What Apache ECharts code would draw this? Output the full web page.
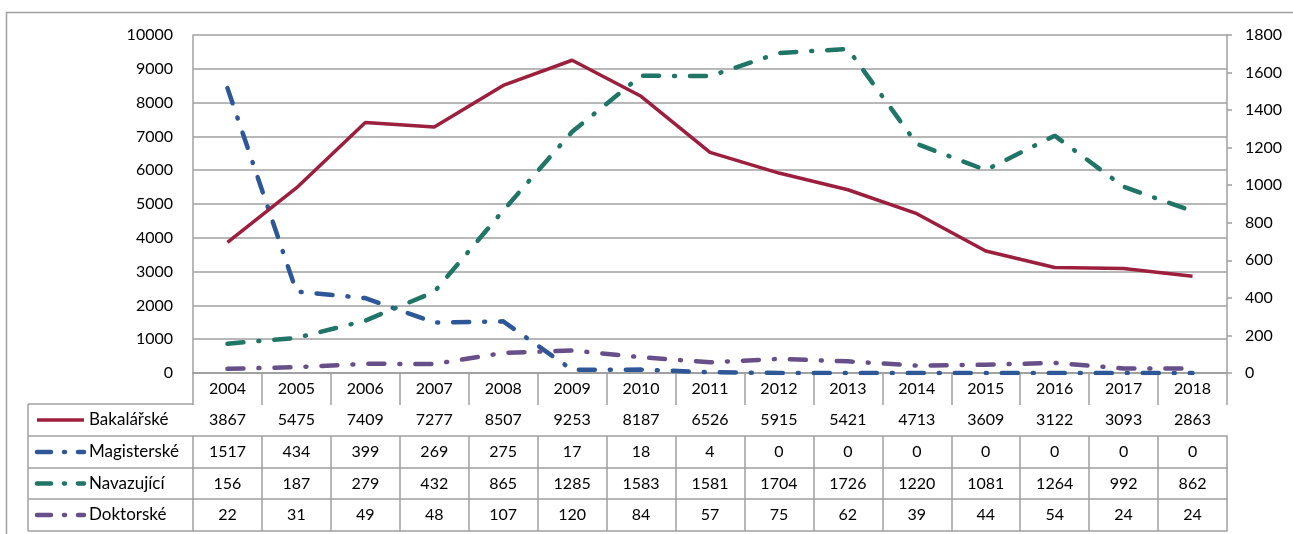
<!DOCTYPE html>
<html><head><meta charset="utf-8">
<script src="https://cdn.jsdelivr.net/npm/echarts@6/dist/echarts.min.js"></script>
<style>html,body{margin:0;padding:0;background:#fff}#c{width:1293px;height:534px}</style>
</head><body><div id="c"></div>
<script>
const years = ['2004','2005','2006','2007','2008','2009','2010','2011','2012','2013','2014','2015','2016','2017','2018'];
const seriesNames = ['Bakalářské','Magisterské','Navazující','Doktorské'];
const bakalarske = [3867,5475,7409,7277,8507,9253,8187,6526,5915,5421,4713,3609,3122,3093,2863];
const magisterske = [1517,434,399,269,275,17,18,4,0,0,0,0,0,0,0];
const navazujici = [156,187,279,432,865,1285,1583,1581,1704,1726,1220,1081,1264,992,862];
const doktorske = [22,31,49,48,107,120,84,57,75,62,39,44,54,24,24];
const leftTicks = {min:0, max:10000, interval:1000};
const rightTicks = {min:0, max:1800, interval:200};

const colors = ['#9c1f3d','#2e5797','#1f7566','#675089'];
const gray = '#a0a0a0';
const font = 'Lato';
const dash = [16,15,1,15];
const allData = [bakalarske, magisterske, navazujici, doktorske];

const gridLeft = 193, gridRight = 66, gridTop = 35, gridBottom = 161;
const rowOffsets = [31, 63, 94.5, 126];
const tableBottomOffset = 158;
const plain = v => String(v);

const xAxes = [{
  type:'category', data: years, position:'bottom', gridIndex:0,
  axisLine:{show:true, lineStyle:{color:gray, width:1.5}},
  axisTick:{show:true, interval:0, length:31, lineStyle:{color:gray, width:1.5}},
  axisLabel:{interval:0, fontSize:16, color:'#000', fontFamily:font, margin:8},
  splitLine:{show:false}
}];
allData.forEach((arr, i) => {
  xAxes.push({
    type:'category', data: arr.map(String), position:'bottom', offset: rowOffsets[i], gridIndex:0,
    axisLine:{show:true, lineStyle:{color:gray, width:1.5}},
    axisTick:{show:true, interval:0, length:32, lineStyle:{color:gray, width:1.5}},
    axisLabel:{interval:0, fontSize:16, color:'#000', fontFamily:font, margin:8},
    splitLine:{show:false}
  });
});
xAxes.push({
  type:'category', data: years, position:'bottom', offset: tableBottomOffset, gridIndex:0,
  axisLine:{show:true, lineStyle:{color:gray, width:1.5}},
  axisTick:{show:false}, axisLabel:{show:false}, splitLine:{show:false}
});

const series = allData.map((arr, i) => ({
  name: seriesNames[i], type:'line', data: arr, xAxisIndex:0, yAxisIndex: i === 0 ? 0 : 1,
  symbol:'none', smooth:false, z: i === 0 ? 3 : 2,
  lineStyle: i === 0 ? {color:colors[0], width:3.5} : {color:colors[i], width:4.5, type:dash, cap:'round'},
  itemStyle:{color:colors[i]}
}));

const graphics = [
  {type:'rect', shape:{x:6.5, y:12.5, width:1400, height:700}, style:{fill:null, stroke:gray, lineWidth:1.5}, silent:true}
];
const rowLines = [404, 436, 468, 499, 531];
rowLines.forEach(y => graphics.push({type:'line', shape:{x1:28, y1:y, x2:193, y2:y}, style:{stroke:gray, lineWidth:1.5}}));
graphics.push({type:'line', shape:{x1:28, y1:404, x2:28, y2:531}, style:{stroke:gray, lineWidth:1.5}});
seriesNames.forEach((nm, i) => {
  const cy = (rowLines[i] + rowLines[i+1]) / 2;
  graphics.push({type:'line', shape:{x1:37, y1:cy, x2:84, y2:cy},
    style: i === 0 ? {stroke:colors[0], lineWidth:3.5} : {stroke:colors[i], lineWidth:4.5, lineDash:[14,13,1,13], lineCap:'round'}});
  graphics.push({type:'text', x:89, y:cy, style:{text:nm, font:'17px '+font, fill:'#000', verticalAlign:'middle', align:'left'}});
});

const chart = echarts.init(document.getElementById('c'));
chart.setOption({
  animation:false,
  backgroundColor:'#fff',
  grid:{left:gridLeft, right:gridRight, top:gridTop, bottom:gridBottom, containLabel:false},
  xAxis: xAxes,
  yAxis: [
    {type:'value', position:'left', min:leftTicks.min, max:leftTicks.max, interval:leftTicks.interval,
     axisLine:{show:true, lineStyle:{color:gray, width:1.5}}, axisTick:{show:false},
     axisLabel:{fontSize:16, color:'#000', fontFamily:font, margin:20, formatter: plain},
     splitLine:{show:true, lineStyle:{color:gray, width:1.5}}},
    {type:'value', position:'right', min:rightTicks.min, max:rightTicks.max, interval:rightTicks.interval,
     axisLine:{show:true, lineStyle:{color:gray, width:1.5}},
     axisTick:{show:true, length:5, lineStyle:{color:gray, width:1.5}},
     axisLabel:{fontSize:16, color:'#000', fontFamily:font, margin:18, formatter: plain},
     splitLine:{show:false}}
  ],
  series: series,
  graphic: graphics
});
</script></body></html>
